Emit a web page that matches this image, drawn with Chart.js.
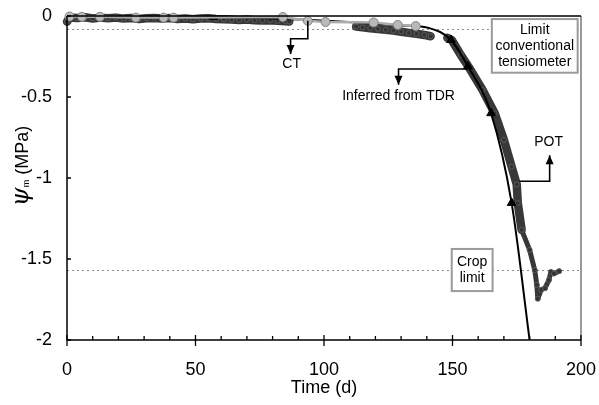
<!DOCTYPE html>
<html>
<head>
<meta charset="utf-8">
<script src="https://cdn.jsdelivr.net/npm/chart.js@4"></script>
<style>
  body { margin: 0; background: #fff; }
</style>
</head>
<body>
<canvas id="chart" width="599" height="405"></canvas>
<script>
const xTicks = [0, 50, 100, 150, 200];
const yTicks = [0, -0.5, -1, -1.5, -2];

// conventional tensiometer (CT) readings
const ctDays = [1, 5.8, 12.8, 26.8, 37.6, 41.5, 84, 93.7, 100.6, 119.3, 128.7, 135.7];
const ctPsi = [-0.003, -0.005, -0.005, -0.01, -0.01, -0.01, -0.006, -0.03, -0.037, -0.04, -0.055, -0.062];

// POT readings, null marks a gap in the record
const potDays = [0, 1, 4, 7, 10, 13, 16, 19, 22, 25, 28, 31, 34, 37, 40, 43, 46, 49, 52, 55, 58, 61, 64, 67, 70, 73, 76, 79, 82, 85, 86.5,
  null,
  112.5, 115, 118, 121, 124, 127, 130, 133, 136, 139, 141.5,
  null,
  148, 149.7, 153.2, 156.3, 161.7, 166.4, 170, 173, 175, 175.4, 176.9, 180, 182, 182.8, 183.2, 184.5, 186, 187.5, 188.3, 189.5, 191.5];
const potPsi = [-0.035, -0.01, -0.012, -0.008, -0.015, -0.01, -0.014, -0.01, -0.016, -0.012, -0.018, -0.014, -0.012, -0.016, -0.013, -0.018, -0.015, -0.02, -0.016, -0.014, -0.018, -0.02, -0.022, -0.024, -0.022, -0.026, -0.028, -0.026, -0.03, -0.032, -0.034,
  null,
  -0.065, -0.07, -0.075, -0.08, -0.085, -0.09, -0.097, -0.104, -0.11, -0.117, -0.125,
  null,
  -0.135, -0.148, -0.24, -0.315, -0.457, -0.6, -0.765, -0.93, -1.04, -1.154, -1.32, -1.444, -1.568, -1.66, -1.745, -1.69, -1.68, -1.63, -1.58, -1.59, -1.575];

// water potential inferred from TDR
const tdrDays = [57, 75, 95, 115, 130, 141, 149.4, 156, 165, 173, 180];
const tdrPsi = [-0.005, -0.012, -0.025, -0.042, -0.058, -0.075, -0.148, -0.31, -0.6, -1.154, -2.0];
const tdrMarkDays = [57, 149.4, 156, 165, 173];
const tdrMarkPsi = [-0.005, -0.148, -0.31, -0.6, -1.154];

const ctLimit = -0.08;
const cropLimit = -1.57;

const chartFont = "'Liberation Sans', Arial, sans-serif";

function pts(xs, ys) {
  return xs.map((x, i) => ({ x: x, y: ys[i] }));
}

function arrowHead(ctx, x, y, dir) {
  // dir 1 = pointing down, -1 = pointing up
  ctx.beginPath();
  ctx.moveTo(x, y);
  ctx.lineTo(x - 4, y - 9 * dir);
  ctx.lineTo(x + 4, y - 9 * dir);
  ctx.closePath();
  ctx.fill();
}

const decor = {
  id: "decor",
  beforeDatasetsDraw(chart) {
    const { ctx, chartArea: a, scales } = chart;
    ctx.save();
    ctx.strokeStyle = "#8c8c8c";
    ctx.lineWidth = 1;
    ctx.setLineDash([2, 3]);
    [ctLimit, cropLimit].forEach((v) => {
      const y = Math.round(scales.y.getPixelForValue(v)) + 0.5;
      ctx.beginPath();
      ctx.moveTo(a.left, y);
      ctx.lineTo(a.right, y);
      ctx.stroke();
    });
    ctx.restore();
  },
  afterDatasetsDraw(chart) {
    const { ctx, scales } = chart;
    const X = (v) => scales.x.getPixelForValue(v);
    const Y = (v) => scales.y.getPixelForValue(v);
    ctx.save();

    // callouts
    ctx.strokeStyle = "#000";
    ctx.fillStyle = "#000";
    ctx.lineWidth = 1.6;
    const callouts = [
      { path: [[93.7, -0.03], [93.7, -0.14], [87, -0.14], [87, -0.235]], dir: 1, text: "CT", at: [87.4, -0.30] },
      { path: [[155.9, -0.327], [129, -0.327], [129, -0.425]], dir: 1, text: "Inferred from TDR", at: [129, -0.494] },
      { path: [[176.1, -1.02], [187.8, -1.02], [187.8, -0.86]], dir: -1, text: "POT", at: [187.4, -0.778] },
    ];
    ctx.font = "14px " + chartFont;
    ctx.textAlign = "center";
    ctx.textBaseline = "middle";
    callouts.forEach((c) => {
      ctx.beginPath();
      c.path.forEach((p, i) => {
        const px = X(p[0]), py = Y(p[1]);
        if (i === 0) ctx.moveTo(px, py); else ctx.lineTo(px, py);
      });
      ctx.stroke();
      const end = c.path[c.path.length - 1];
      arrowHead(ctx, X(end[0]), Y(end[1]), c.dir);
      ctx.fillText(c.text, X(c.at[0]), Y(c.at[1]));
    });

    // text boxes
    const boxes = [
      { x0: 165.3, x1: 198.7, y0: -0.019, y1: -0.35, lines: ["Limit", "conventional", "tensiometer"] },
      { x0: 149.7, x1: 165.6, y0: -1.438, y1: -1.698, lines: ["Crop", "limit"] },
    ];
    boxes.forEach((b) => {
      const l = X(b.x0), r = X(b.x1), t = Y(b.y0), bt = Y(b.y1);
      ctx.fillStyle = "#fff";
      ctx.fillRect(l, t, r - l, bt - t);
      ctx.strokeStyle = "#9a9a9a";
      ctx.lineWidth = 2;
      ctx.strokeRect(l, t, r - l, bt - t);
      ctx.fillStyle = "#000";
      const lh = 16;
      const cy = (t + bt) / 2 - ((b.lines.length - 1) * lh) / 2;
      b.lines.forEach((s, i) => ctx.fillText(s, (l + r) / 2, cy + i * lh));
    });
    ctx.restore();
  },
  afterDraw(chart) {
    const { ctx, chartArea: a, scales } = chart;
    ctx.save();
    // frame
    ctx.strokeStyle = "#9a9a9a";
    ctx.lineWidth = 2;
    ctx.beginPath();
    ctx.moveTo(a.right, a.top);
    ctx.lineTo(a.right, a.bottom);
    ctx.stroke();
    ctx.strokeStyle = "#000";
    ctx.lineWidth = 1.5;
    ctx.beginPath();
    ctx.moveTo(a.left, a.top);
    ctx.lineTo(a.right, a.top);
    ctx.moveTo(a.left, a.top);
    ctx.lineTo(a.left, a.bottom);
    ctx.lineTo(a.right, a.bottom);
    ctx.stroke();
    // ticks
    ctx.lineWidth = 1.3;
    ctx.beginPath();
    for (let d = 0; d <= 200; d += 10) {
      const x = scales.x.getPixelForValue(d);
      const major = d % 50 === 0;
      ctx.moveTo(x, a.bottom - (major ? 5 : 4));
      ctx.lineTo(x, a.bottom + (major ? 6 : 0));
    }
    yTicks.forEach((v) => {
      const y = scales.y.getPixelForValue(v);
      ctx.moveTo(a.left, y);
      ctx.lineTo(a.left + 4, y);
    });
    ctx.stroke();

    // axis titles
    ctx.fillStyle = "#000";
    ctx.textAlign = "center";
    ctx.textBaseline = "middle";
    ctx.font = "18px " + chartFont;
    ctx.fillText("Time (d)", (a.left + a.right) / 2, 388);

    ctx.translate(22, 166);
    ctx.rotate(-Math.PI / 2);
    ctx.textAlign = "left";
    ctx.textBaseline = "alphabetic";
    const f1 = "italic 24px 'DejaVu Serif', serif";
    const f2 = "9px " + chartFont;
    const f3 = "18px " + chartFont;
    ctx.font = f1; const w1 = ctx.measureText("ψ").width;
    ctx.font = f2; const w2 = ctx.measureText("m").width;
    ctx.font = f3; const w3 = ctx.measureText(" (MPa)").width;
    let x = -(w1 + w2 + w3) / 2;
    const base = 6;
    ctx.font = f1; ctx.fillText("ψ", x, base); x += w1;
    ctx.font = f2; ctx.fillText("m", x, base + 1); x += w2;
    ctx.font = f3; ctx.fillText(" (MPa)", x, base);
    ctx.restore();
  },
};

const ctx = document.getElementById("chart").getContext("2d");
const chart = new Chart(ctx, {
  type: "line",
  data: {
    datasets: [
      {
        label: "CT",
        data: pts(ctDays, ctPsi),
        borderColor: "#ababab",
        borderWidth: 2.5,
        backgroundColor: "#b9b9b9",
        pointBorderColor: "#858585",
        pointBorderWidth: 1,
        pointRadius: 4.5,
        clip: false,
        order: 0,
      },
      {
        label: "TDR marks",
        data: pts(tdrMarkDays, tdrMarkPsi),
        showLine: false,
        pointStyle: "triangle",
        pointRadius: 5,
        backgroundColor: "#000",
        borderColor: "#000",
        order: 1,
      },
      {
        label: "Inferred from TDR",
        data: pts(tdrDays, tdrPsi),
        borderColor: "#000",
        borderWidth: 2,
        pointRadius: 0,
        cubicInterpolationMode: "monotone",
        order: 2,
      },
      {
        label: "POT",
        data: pts(potDays, potPsi),
        borderColor: "#383838",
        borderWidth: 8.5,
        borderCapStyle: "round",
        borderJoinStyle: "round",
        segment: {
          borderWidth: (c) => (c.p0.parsed.y < -1.2 ? 5 : 8.5),
        },
        backgroundColor: "#333",
        pointBorderColor: "#5c5c5c",
        pointBorderWidth: 1,
        pointRadius: 2.5,
        spanGaps: false,
        clip: false,
        order: 3,
      },
    ],
  },
  options: {
    responsive: false,
    animation: false,
    layout: { padding: { top: 16, right: 18, left: 0, bottom: 0 } },
    plugins: { legend: { display: false }, tooltip: { enabled: false } },
    scales: {
      x: {
        type: "linear",
        min: 0,
        max: 200,
        afterFit: (s) => { s.height = 65; s.paddingLeft = 0; s.paddingRight = 0; },
        afterBuildTicks: (s) => { s.ticks = xTicks.map((v) => ({ value: v })); },
        grid: { display: false, drawTicks: false },
        border: { display: false },
        ticks: { padding: 19, color: "#000", font: { size: 18, family: chartFont }, maxRotation: 0 },
      },
      y: {
        min: -2,
        max: 0,
        afterFit: (s) => { s.width = 67; s.paddingTop = 0; s.paddingBottom = 0; },
        afterBuildTicks: (s) => { s.ticks = yTicks.map((v) => ({ value: v })); },
        grid: { display: false, drawTicks: false },
        border: { display: false },
        ticks: { padding: 15, color: "#000", font: { size: 18, family: chartFont }, callback: (v) => String(v) },
      },
    },
  },
  plugins: [decor],
});
</script>
</body>
</html>
